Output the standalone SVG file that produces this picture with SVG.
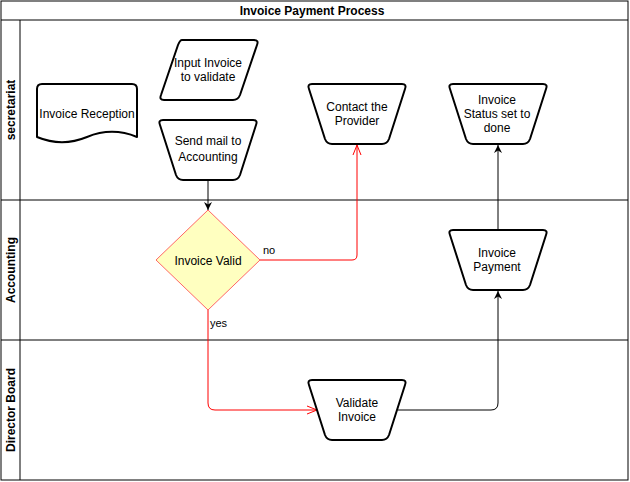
<svg xmlns="http://www.w3.org/2000/svg" width="630" height="482" viewBox="0 0 630 482">
<style>
text{font-family:"Liberation Sans",Arial,sans-serif;font-size:12px;fill:#000;text-anchor:middle;dominant-baseline:central}
.b{font-weight:bold}
.lane{fill:none;stroke:#000;stroke-width:1}
.shape{fill:#fff;stroke:#000;stroke-width:2;stroke-linejoin:round}
.blk{fill:none;stroke:#000;stroke-width:1}
.red{fill:none;stroke:#ff0000;stroke-width:1}
.lbl{text-anchor:start;font-size:11px}
</style>
<defs>
<marker id="ab" viewBox="0 0 10 10" refX="10" refY="5" markerWidth="8" markerHeight="8" orient="auto" markerUnits="userSpaceOnUse">
<path d="M0,0 L10,5 L0,10 L3,5 Z" fill="#000"/>
</marker>
<marker id="ar" viewBox="0 0 10 10" refX="10" refY="5" markerWidth="10" markerHeight="10" orient="auto" markerUnits="userSpaceOnUse">
<path d="M0,1 L10,5 L0,9" fill="none" stroke="#ff0000" stroke-width="1"/>
</marker>
</defs>
<rect x="0" y="0" width="630" height="482" fill="#fff"/>
<g id="pool">
<rect class="lane" x="1" y="1" width="627" height="479"/>
<line class="lane" x1="1" y1="20" x2="628" y2="20"/>
<line class="lane" x1="20" y1="20" x2="20" y2="480"/>
<line class="lane" x1="1" y1="200" x2="628" y2="200"/>
<line class="lane" x1="1" y1="340" x2="628" y2="340"/>
<text class="b" x="312" y="11">Invoice Payment Process</text>
<text class="b" transform="translate(11,110) rotate(-90)">secretariat</text>
<text class="b" transform="translate(11,270) rotate(-90)">Accounting</text>
<text class="b" transform="translate(11,410) rotate(-90)">Director Board</text>
</g>
<g id="connectors">
<line class="blk" x1="208" y1="180" x2="208" y2="210" marker-end="url(#ab)"/>
<path class="red" d="M260,260 H352 Q357,260 357,255 V145" marker-end="url(#ar)"/>
<path class="red" d="M208,310 V403 Q208,410 215,410 H317" marker-end="url(#ar)"/>
<path class="blk" d="M398,410 H491 Q498,410 498,403 V291" marker-end="url(#ab)"/>
<line class="blk" x1="498" y1="230" x2="498" y2="145" marker-end="url(#ab)"/>
<text class="lbl" x="263" y="250">no</text>
<text class="lbl" x="210" y="323">yes</text>
</g>
<g id="invoice-reception">
<path class="shape" d="M42,84 H132 Q137,84 137,89 V137 C120,130 104,130 87,137 C70,144 54,144 37,137 V89 Q37,84 42,84 Z"/>
<text x="87" y="114">Invoice Reception</text>
</g>
<g id="input-invoice">
<path class="shape" d="M182,40 H254 Q259,40 257,45 L240,95 Q238,100 233,100 H164 Q159,100 161,95 L178,45 Q180,40 182,40 Z"/>
<text x="208" y="63">Input Invoice</text>
<text x="208" y="77">to validate</text>
</g>
<g id="send-mail">
<path class="shape" d="M163,120 H253 Q258,120 256,125 L240,175 Q238,180 233,180 H183 Q178,180 176,175 L160,125 Q158,120 163,120 Z"/>
<text x="208" y="141">Send mail to</text>
<text x="208" y="157">Accounting</text>
</g>
<g id="invoice-valid">
<path d="M208,210 L260,260 L208,310 L156,260 Z" fill="#ffffc0" stroke="#ff6666" stroke-width="1"/>
<text x="208" y="261">Invoice Valid</text>
</g>
<g id="contact-provider">
<path class="shape" d="M312,84 H402 Q407,84 405,89 L389,139 Q387,144 382,144 H332 Q327,144 325,139 L309,89 Q307,84 312,84 Z"/>
<text x="357" y="107">Contact the</text>
<text x="357" y="121">Provider</text>
</g>
<g id="status-done">
<path class="shape" d="M453,84 H543 Q548,84 546,89 L530,139 Q528,144 523,144 H473 Q468,144 466,139 L450,89 Q448,84 453,84 Z"/>
<text x="497" y="100">Invoice</text>
<text x="497" y="114">Status set to</text>
<text x="497" y="128">done</text>
</g>
<g id="invoice-payment">
<path class="shape" d="M453,230 H543 Q548,230 546,235 L530,285 Q528,290 523,290 H473 Q468,290 466,285 L450,235 Q448,230 453,230 Z"/>
<text x="497" y="253">Invoice</text>
<text x="497" y="267">Payment</text>
</g>
<g id="validate-invoice">
<path class="shape" d="M312,380 H402 Q407,380 405,385 L389,435 Q387,440 382,440 H332 Q327,440 325,435 L309,385 Q307,380 312,380 Z"/>
<text x="357" y="403">Validate</text>
<text x="357" y="417">Invoice</text>
</g>
</svg>
